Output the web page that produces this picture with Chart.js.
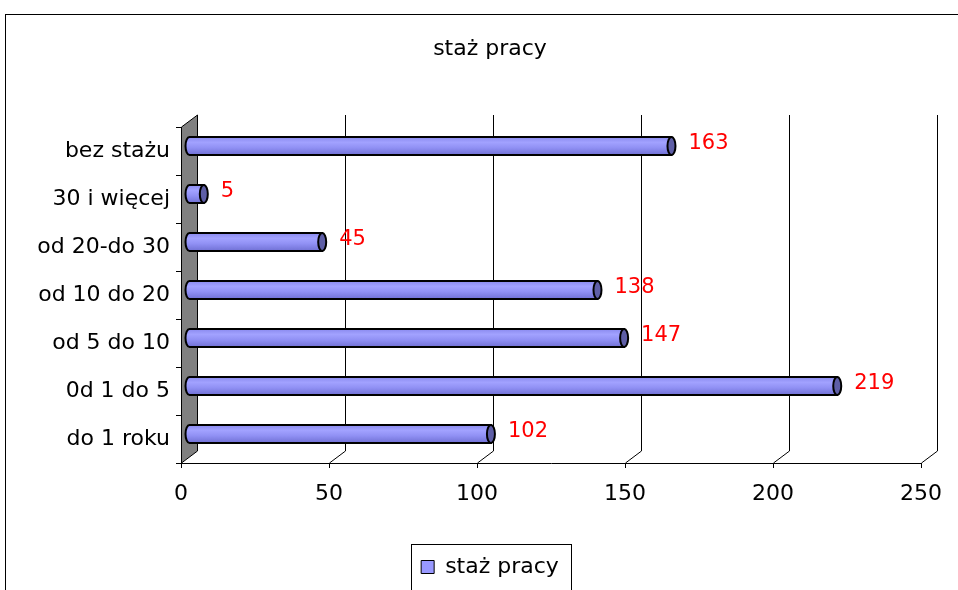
<!DOCTYPE html>
<html>
<head>
<meta charset="utf-8">
<title>staż pracy</title>
<script src="https://cdn.jsdelivr.net/npm/chart.js@4.4.1/dist/chart.umd.min.js"></script>
<style>
  html, body { margin: 0; padding: 0; background: #fff; }
  #wykres { display: block; }
</style>
</head>
<body>
<canvas id="wykres" width="958" height="590"></canvas>
<script>
var kategorie = ["bez stażu", "30 i więcej", "od 20-do 30", "od 10 do 20", "od 5 do 10", "0d 1 do 5", "do 1 roku"];
var wartosci = [163, 5, 45, 138, 147, 219, 102];
var osX = [0, 50, 100, 150, 200, 250];
var tytul = "staż pracy";
var nazwaSerii = "staż pracy";

// glebokosc efektu 3D
var GX = 16, GY = -12;
var SLUP_DX = 8, SLUP_DY = -5;
var SRODEK_LEWO = 59; // tytul i legenda wysrodkowane troche w prawo
var FONT = "'DejaVu Sans', Arial, sans-serif";

var efekt3d = {
    id: 'efekt3d',
    afterLayout: function(chart) {
        chart.titleBlock.left = SRODEK_LEWO;
        chart.legend.left = SRODEK_LEWO;
    },
    beforeDraw: function(chart) {
        var ctx = chart.ctx;
        ctx.save();
        ctx.strokeStyle = '#000';
        ctx.lineWidth = 1;
        ctx.strokeRect(5.5, 14.5, 1000, 1000);
        ctx.restore();
    },
    beforeDatasetsDraw: function(chart) {
        var ctx = chart.ctx, a = chart.chartArea, sx = chart.scales.x;
        ctx.save();
        ctx.lineWidth = 1;
        ctx.strokeStyle = '#000';
        // linie siatki z tylu
        osX.forEach(function(v) {
            if (v === 0) return;
            var x = Math.round(sx.getPixelForValue(v)) + 0.5;
            ctx.beginPath();
            ctx.moveTo(x, a.bottom);
            ctx.lineTo(x + GX, a.bottom + GY);
            ctx.lineTo(x + GX, a.top + GY);
            ctx.stroke();
        });
        // szara sciana
        var l = Math.round(a.left) + 0.5;
        ctx.beginPath();
        ctx.moveTo(l, a.top);
        ctx.lineTo(l + GX, a.top + GY);
        ctx.lineTo(l + GX, a.bottom + GY);
        ctx.lineTo(l, a.bottom);
        ctx.closePath();
        ctx.fillStyle = '#808080';
        ctx.fill();
        ctx.stroke();
        ctx.restore();
    },
    beforeDatasetDraw: function() {
        return false;
    },
    afterDatasetsDraw: function(chart) {
        var ctx = chart.ctx;
        var meta = chart.getDatasetMeta(0);
        ctx.save();
        meta.data.forEach(function(bar, i) {
            var rx = 4, ry = bar.height / 2;
            var x0 = bar.base + SLUP_DX, x1 = bar.x + SLUP_DX, cy = bar.y + SLUP_DY;
            var g = ctx.createLinearGradient(0, cy - ry, 0, cy + ry);
            g.addColorStop(0, '#8a8aee');
            g.addColorStop(0.3, '#a2a2ff');
            g.addColorStop(0.6, '#9090f4');
            g.addColorStop(1, '#7070d4');
            ctx.beginPath();
            ctx.moveTo(x1, cy - ry);
            ctx.lineTo(x0, cy - ry);
            ctx.ellipse(x0, cy, rx, ry, 0, -Math.PI / 2, Math.PI / 2, true);
            ctx.lineTo(x1, cy + ry);
            ctx.closePath();
            ctx.fillStyle = g;
            ctx.fill();
            ctx.lineWidth = 2;
            ctx.strokeStyle = '#000';
            ctx.stroke();
            // denko
            ctx.beginPath();
            ctx.ellipse(x1, cy, rx, ry, 0, 0, Math.PI * 2);
            ctx.fillStyle = '#5e5ea6';
            ctx.fill();
            ctx.stroke();
            // etykieta
            ctx.fillStyle = '#ff0000';
            ctx.font = "21px " + FONT;
            ctx.textAlign = 'left';
            ctx.textBaseline = 'middle';
            ctx.fillText(String(wartosci[i]), x1 + rx + 13, cy - 2);
        });
        ctx.restore();
    },
    afterDraw: function(chart) {
        var ctx = chart.ctx;
        var hb = chart.legend.legendHitBoxes[0];
        if (!hb) return;
        ctx.save();
        ctx.strokeStyle = '#000';
        ctx.lineWidth = 1;
        ctx.strokeRect(Math.round(hb.left - 10) + 0.5, Math.round(hb.top - 12) + 0.5, Math.round(hb.width + 22), 100);
        ctx.restore();
    }
};

var wykres = new Chart(document.getElementById('wykres').getContext('2d'), {
    type: 'bar',
    data: {
        labels: kategorie,
        datasets: [{
            label: nazwaSerii,
            data: wartosci,
            backgroundColor: '#9999ff',
            borderColor: '#000',
            borderWidth: 1,
            barThickness: 18
        }]
    },
    options: {
        indexAxis: 'y',
        responsive: false,
        animation: false,
        devicePixelRatio: 1,
        layout: { padding: { left: 0, right: 37, top: 0, bottom: 2 } },
        plugins: {
            title: {
                display: true,
                text: tytul,
                color: '#000',
                font: { family: FONT, size: 22, weight: 'normal' },
                padding: { top: 36, bottom: 64.6 }
            },
            legend: {
                position: 'bottom',
                labels: {
                    boxWidth: 13,
                    boxHeight: 13,
                    color: '#000',
                    font: { family: FONT, size: 22 },
                    padding: 10
                }
            },
            tooltip: { enabled: false }
        },
        scales: {
            x: {
                min: 0,
                max: 250,
                afterBuildTicks: function(s) {
                    s.ticks = osX.map(function(v) { return { value: v }; });
                },
                afterFit: function(s) { s.height = 83; },
                grid: { drawOnChartArea: false, color: '#000', tickLength: 5 },
                border: { color: '#000' },
                ticks: { color: '#000', font: { family: FONT, size: 22 }, padding: 13, maxRotation: 0 }
            },
            y: {
                afterFit: function(s) { s.width = 181; },
                grid: { drawOnChartArea: false, color: '#000', tickLength: 5 },
                border: { color: '#000' },
                ticks: { color: '#000', font: { family: FONT, size: 22 }, padding: 6 }
            }
        }
    },
    plugins: [efekt3d]
});
</script>
</body>
</html>
